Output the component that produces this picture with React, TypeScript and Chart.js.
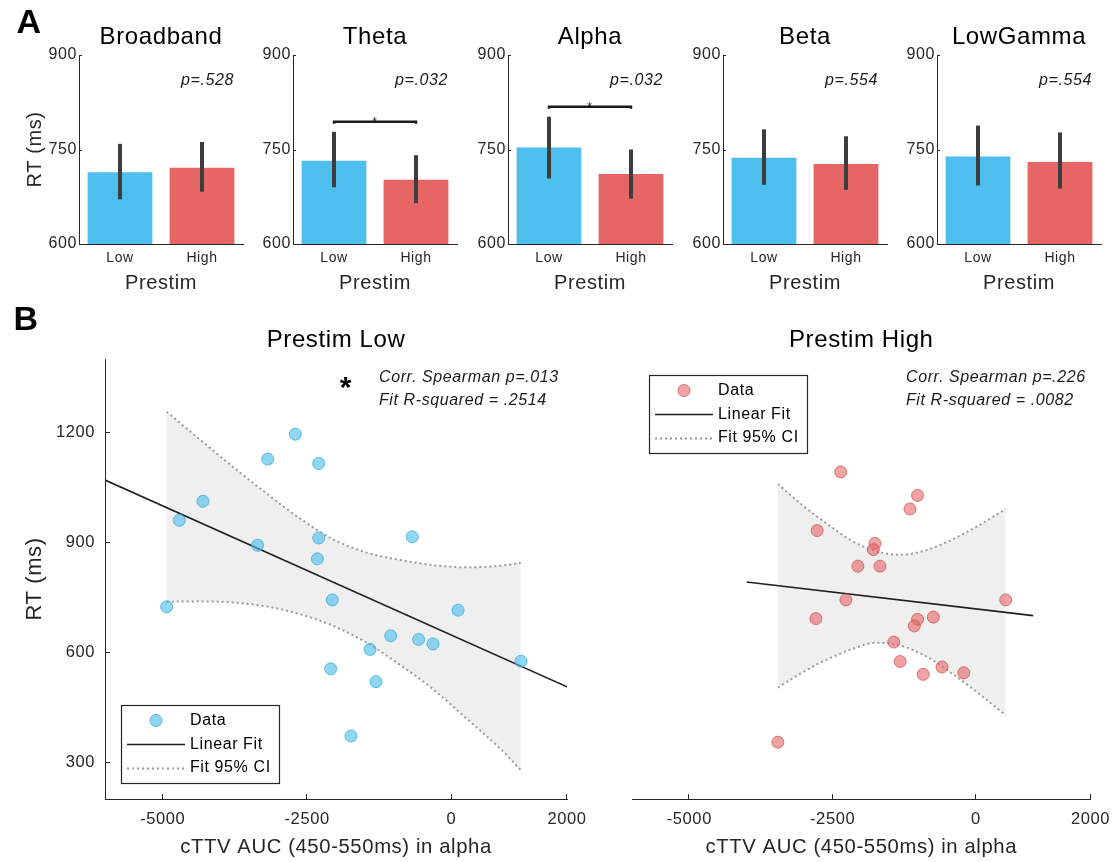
import React, { useEffect, useRef } from 'react';
import { Chart, registerables } from 'chart.js';

Chart.register(...registerables);

const FONT = '"Liberation Sans", Arial, Helvetica, sans-serif';
const AXIS = '#262626';
const TEXT = '#1a1a1a';
const BAR_BLUE = '#4DBEEE';
const BAR_RED = '#E66565';

// ---------- Panel A data ----------
const bandNames = ['Broadband', 'Theta', 'Alpha', 'Beta', 'LowGamma'];
const prestimLabels = ['Low', 'High'];
const rtLow = [714, 732, 753, 737, 739];
const rtHigh = [721, 702, 711, 727, 730];
const errLowMin = [671, 690, 704, 694, 693];
const errLowMax = [759, 778, 802, 782, 788];
const errHighMin = [683, 665, 672, 686, 688];
const errHighMax = [762, 741, 750, 771, 777];
const pLabels = ['p=.528', 'p=.032', 'p=.032', 'p=.554', 'p=.554'];
const sigBarLevel: (number | null)[] = [null, 794, 818, null, null];
const barYTicks = [600, 750, 900];

// ---------- Panel B data ----------
const scatterTitles = ['Prestim Low', 'Prestim High'];
const scatterXTicks = [-5000, -2500, 0, 2000];
const scatterYTicks = [300, 600, 900, 1200];
const legendLabels = ['Data', 'Linear Fit', 'Fit 95% CI'];

const lowX = [-4932, -4713, -4303, -3183, -2704, -2300, -3358, -2300, -2323, -679, -2064, 113, -1053, -570, -320, -1411, 1203, -2093, -1307, -1740];
const lowY = [724, 960, 1012, 1127, 1195, 1115, 892, 912, 855, 915, 743, 715, 645, 635, 623, 608, 576, 555, 520, 372];
const lowFitX = [-6000, 2000];
const lowFitY = [1070, 506];
const lowCiX = [-4932, -4355, -3778, -3201, -2624, -2046, -1469, -892, -315, 263, 840, 1200];
const lowCiUpper = [1256, 1180, 1105, 1033, 965, 908, 872, 852, 838, 832, 836, 844];
const lowCiLower = [738, 739, 736, 725, 704, 672, 626, 566, 499, 419, 338, 279];
const lowStats = ['Corr. Spearman p=.013', 'Fit R-squared = .2514'];

const highX = [-2359, -1018, -1150, -2769, -1761, -1789, -2060, -1674, -2268, 520, -2791, -1018, -1075, -742, -1433, -1322, -591, -920, -211, -3455];
const highY = [1092, 1028, 991, 932, 897, 880, 835, 835, 743, 743, 692, 690, 672, 696, 628, 575, 560, 540, 544, 355];
const highFitX = [-4000, 1000];
const highFitY = [792, 700];
const highCiX = [-3455, -3040, -2750, -2460, -2175, -1745, -1310, -880, -450, 15, 520];
const highCiUpper = [1059, 1003, 968, 935, 905, 876, 866, 878, 905, 943, 991];
const highCiLower = [504, 544, 569, 590, 608, 626, 618, 590, 546, 492, 428];
const highStats = ['Corr. Spearman p=.226', 'Fit R-squared = .0082'];

// ---------- layout (page pixels) ----------
const barAxisLeft = [79, 293, 508, 723, 937];
const BAR_PLOT_W = 164;
const BAR_YAXIS_W = 75;

const zip = (xs: number[], ys: number[]) => xs.map((x, k) => ({ x, y: ys[k] }));
const f = (size: number) => ({ family: FONT, size });

const spacing = {
  id: 'letterSpacing',
  beforeDraw(chart: any) {
    try { chart.ctx.letterSpacing = '0.6px'; } catch (e) { /* ignore */ }
  },
};

function barDecor(i: number) {
  return {
    id: 'barDecor',
    afterDatasetsDraw(chart: any) {
      const { ctx, chartArea: a } = chart;
      const x = chart.scales.x;
      const y = chart.scales.y;
      ctx.save();
      ctx.strokeStyle = AXIS;
      ctx.lineWidth = 1;
      barYTicks.forEach((v) => {
        const py = Math.round(y.getPixelForValue(v)) + 0.5;
        ctx.beginPath();
        ctx.moveTo(a.left, py);
        ctx.lineTo(a.left + 3, py);
        ctx.stroke();
      });
      ctx.strokeStyle = '#3d3d3d';
      ctx.lineWidth = 4;
      const errs = [[errLowMin[i], errLowMax[i]], [errHighMin[i], errHighMax[i]]];
      errs.forEach(([lo, hi], k) => {
        const px = x.getPixelForValue(k);
        ctx.beginPath();
        ctx.moveTo(px, y.getPixelForValue(lo));
        ctx.lineTo(px, y.getPixelForValue(hi));
        ctx.stroke();
      });
      const sig = sigBarLevel[i];
      if (sig !== null) {
        const py = y.getPixelForValue(sig);
        const x0 = x.getPixelForValue(0);
        const x1 = x.getPixelForValue(1);
        ctx.strokeStyle = '#1a1a1a';
        ctx.lineWidth = 2.5;
        ctx.beginPath();
        ctx.moveTo(x0, py + 2);
        ctx.lineTo(x0, py);
        ctx.lineTo(x1, py);
        ctx.lineTo(x1, py + 2);
        ctx.stroke();
        ctx.fillStyle = '#1a1a1a';
        ctx.font = `12px ${FONT}`;
        ctx.textAlign = 'center';
        ctx.textBaseline = 'alphabetic';
        ctx.fillText('*', (x0 + x1) / 2, py + 4);
      }
      ctx.fillStyle = TEXT;
      ctx.font = `italic 16px ${FONT}`;
      ctx.textAlign = 'right';
      ctx.textBaseline = 'middle';
      ctx.fillText(pLabels[i], a.right - 9, a.top + 26);
      if (i === 0) {
        ctx.fillStyle = '#000';
        ctx.font = `bold 34px ${FONT}`;
        ctx.textAlign = 'center';
        ctx.textBaseline = 'middle';
        ctx.fillText('A', 25, 24);
      }
      ctx.restore();
    },
  };
}

function barConfig(i: number): any {
  return {
    type: 'bar',
    data: {
      labels: prestimLabels,
      datasets: [
        {
          label: bandNames[i],
          data: [rtLow[i], rtHigh[i]],
          backgroundColor: [BAR_BLUE, BAR_RED],
          borderWidth: 0,
          barPercentage: 0.79,
          categoryPercentage: 1,
        },
      ],
    },
    options: {
      responsive: false,
      animation: false,
      events: [],
      layout: { padding: { left: 0, right: 8, top: 0, bottom: 0 } },
      plugins: {
        legend: { display: false },
        tooltip: { enabled: false },
        title: {
          display: true,
          text: bandNames[i],
          fullSize: false,
          color: '#000',
          font: { family: FONT, size: 24, weight: 'normal' },
          padding: { top: 22.6, bottom: 3.6 },
        },
      },
      scales: {
        x: {
          grid: { display: false, drawTicks: false },
          border: { display: true, color: AXIS, width: 1 },
          ticks: { color: AXIS, font: f(14), padding: 5.6 },
          title: { display: true, text: 'Prestim', color: AXIS, font: f(20), padding: { top: 0, bottom: 5 } },
          afterFit: (s: any) => { s.height = 56; },
        },
        y: {
          min: 600,
          max: 900,
          grid: { display: false, drawTicks: false },
          border: { display: true, color: AXIS, width: 1 },
          ticks: { color: AXIS, font: f(16), padding: 2, callback: (v: any) => String(v) },
          afterBuildTicks: (s: any) => { s.ticks = barYTicks.map((v) => ({ value: v })); },
          title: { display: i === 0, text: 'RT (ms)', color: AXIS, font: f(20), padding: { top: 19, bottom: 0 } },
          afterFit: (s: any) => { s.width = BAR_YAXIS_W; },
        },
      },
    },
    plugins: [spacing, barDecor(i)],
  };
}

function scatterDecor(isLow: boolean) {
  const stats = isLow ? lowStats : highStats;
  return {
    id: 'scatterDecor',
    afterDraw(chart: any) {
      const { ctx, chartArea: a } = chart;
      const x = chart.scales.x;
      const y = chart.scales.y;
      const ds = chart.data.datasets;
      ctx.save();
      ctx.strokeStyle = AXIS;
      ctx.lineWidth = 1;
      scatterXTicks.forEach((v) => {
        const px = Math.round(x.getPixelForValue(v)) - 0.5;
        ctx.beginPath();
        ctx.moveTo(px, a.bottom);
        ctx.lineTo(px, a.bottom - 5);
        ctx.stroke();
      });
      if (isLow) {
        scatterYTicks.forEach((v) => {
          const py = Math.round(y.getPixelForValue(v)) + 0.5;
          ctx.beginPath();
          ctx.moveTo(a.left, py);
          ctx.lineTo(a.left + 5, py);
          ctx.stroke();
        });
      }
      // statistics text
      ctx.fillStyle = TEXT;
      ctx.font = `italic 16px ${FONT}`;
      ctx.textAlign = 'left';
      ctx.textBaseline = 'middle';
      ctx.fillText(stats[0], a.left + 274, a.top + 19);
      ctx.fillText(stats[1], a.left + 274, a.top + 42);
      if (isLow) {
        ctx.fillStyle = '#000';
        ctx.font = `bold 30px ${FONT}`;
        ctx.textAlign = 'center';
        ctx.textBaseline = 'alphabetic';
        ctx.fillText('*', a.left + 241, a.top + 38);
      }
      // legend
      const bx = isLow ? a.left + 16 : a.left + 17;
      const by = isLow ? a.bottom - 94 : a.top + 16;
      const bw = 158;
      const bh = 78;
      ctx.fillStyle = '#fff';
      ctx.fillRect(bx, by, bw, bh);
      ctx.strokeStyle = '#262626';
      ctx.lineWidth = 1.2;
      ctx.strokeRect(bx + 0.5, by + 0.5, bw, bh);
      ctx.beginPath();
      ctx.arc(bx + 35, by + 15.5, 6, 0, Math.PI * 2);
      ctx.fillStyle = ds[0].pointBackgroundColor;
      ctx.fill();
      ctx.strokeStyle = ds[0].pointBorderColor;
      ctx.lineWidth = 1;
      ctx.stroke();
      ctx.strokeStyle = ds[1].borderColor;
      ctx.lineWidth = ds[1].borderWidth;
      ctx.beginPath();
      ctx.moveTo(bx + 6, by + 39.5);
      ctx.lineTo(bx + 64, by + 39.5);
      ctx.stroke();
      ctx.strokeStyle = ds[2].borderColor;
      ctx.lineWidth = ds[2].borderWidth;
      ctx.setLineDash(ds[2].borderDash);
      ctx.beginPath();
      ctx.moveTo(bx + 6, by + 63.5);
      ctx.lineTo(bx + 64, by + 63.5);
      ctx.stroke();
      ctx.setLineDash([]);
      ctx.fillStyle = '#000';
      ctx.font = `16px ${FONT}`;
      ctx.textAlign = 'left';
      ctx.textBaseline = 'middle';
      ctx.fillText(ds[0].label, bx + 69, by + 16);
      ctx.fillText(ds[1].label, bx + 69, by + 40);
      ctx.fillText(ds[2].label, bx + 69, by + 63);
      if (isLow) {
        ctx.fillStyle = '#000';
        ctx.font = `bold 34px ${FONT}`;
        ctx.textAlign = 'center';
        ctx.textBaseline = 'middle';
        ctx.fillText('B', 26, 21);
      }
      ctx.restore();
    },
  };
}

function scatterConfig(isLow: boolean): any {
  const xs = isLow ? lowX : highX;
  const ys = isLow ? lowY : highY;
  const fitX = isLow ? lowFitX : highFitX;
  const fitY = isLow ? lowFitY : highFitY;
  const ciX = isLow ? lowCiX : highCiX;
  const ciUp = isLow ? lowCiUpper : highCiUpper;
  const ciLo = isLow ? lowCiLower : highCiLower;
  const fill = isLow ? 'rgba(77,190,238,0.62)' : 'rgba(228,96,96,0.58)';
  const edge = isLow ? 'rgba(60,172,222,0.8)' : 'rgba(212,82,82,0.75)';
  const dotted = {
    type: 'line',
    borderColor: '#9a9a9a',
    borderWidth: 2,
    borderDash: [2, 3],
    pointRadius: 0,
    cubicInterpolationMode: 'monotone',
  };
  return {
    type: 'scatter',
    data: {
      datasets: [
        {
          type: 'scatter',
          label: legendLabels[0],
          data: zip(xs, ys),
          pointRadius: 6,
          pointBackgroundColor: fill,
          pointBorderColor: edge,
          pointBorderWidth: 1,
          backgroundColor: fill,
          borderColor: edge,
        },
        {
          type: 'line',
          label: legendLabels[1],
          data: zip(fitX, fitY),
          borderColor: '#1f1f1f',
          borderWidth: 1.6,
          pointRadius: 0,
          fill: false,
        },
        {
          ...dotted,
          label: legendLabels[2],
          data: zip(ciX, ciUp),
          fill: '+1',
          backgroundColor: '#EFEFEF',
        },
        {
          ...dotted,
          label: legendLabels[2],
          data: zip(ciX, ciLo),
          fill: false,
        },
      ],
    },
    options: {
      responsive: false,
      animation: false,
      events: [],
      layout: { padding: { left: isLow ? 0 : 72, right: isLow ? 33 : 24, top: 0, bottom: 0 } },
      plugins: {
        legend: { display: false },
        tooltip: { enabled: false },
        filler: { drawTime: 'beforeDatasetsDraw' },
        title: {
          display: true,
          text: scatterTitles[isLow ? 0 : 1],
          fullSize: false,
          color: '#000',
          font: { family: FONT, size: 24, weight: 'normal' },
          padding: { top: 25.6, bottom: 4.6 },
        },
      },
      scales: {
        x: {
          type: 'linear',
          min: -6000,
          max: 2000,
          grid: { display: false, drawTicks: false },
          border: { display: true, color: AXIS, width: 1 },
          ticks: { color: AXIS, font: f(16.5), padding: 10.1, callback: (v: any) => String(v) },
          afterBuildTicks: (s: any) => { s.ticks = scatterXTicks.map((v) => ({ value: v })); },
          title: { display: true, text: 'cTTV AUC (450-550ms) in alpha', color: AXIS, font: f(20.3), padding: { top: 0, bottom: 2.8 } },
          afterFit: (s: any) => { s.height = 63; },
        },
        y: {
          type: 'linear',
          display: isLow,
          min: 200,
          max: 1400,
          grid: { display: false, drawTicks: false },
          border: { display: true, color: AXIS, width: 1 },
          ticks: { color: AXIS, font: f(16.5), padding: 10, callback: (v: any) => String(v) },
          afterBuildTicks: (s: any) => { s.ticks = scatterYTicks.map((v) => ({ value: v })); },
          title: { display: true, text: 'RT (ms)', color: AXIS, font: f(22), padding: { top: 21.8, bottom: 0 } },
          afterFit: (s: any) => { s.width = isLow ? 105 : 0; },
        },
      },
    },
    plugins: [spacing, scatterDecor(isLow)],
  };
}

type Box = { left: number; top: number; width: number; height: number };

function ChartCanvas({ box, make }: { box: Box; make: () => any }) {
  const ref = useRef<HTMLCanvasElement>(null);
  useEffect(() => {
    if (!ref.current) return;
    const chart = new Chart(ref.current, make());
    return () => chart.destroy();
  }, []);
  return (
    <canvas
      ref={ref}
      width={box.width}
      height={box.height}
      style={{ position: 'absolute', left: box.left, top: box.top, width: box.width, height: box.height }}
    />
  );
}

export default function App() {
  return (
    <div
      style={{
        position: 'absolute',
        left: 0,
        top: 0,
        width: 1119,
        height: 862,
        background: '#fff',
        overflow: 'hidden',
      }}
    >
      {bandNames.map((_, i) => (
        <ChartCanvas
          key={i}
          box={{ left: barAxisLeft[i] - BAR_YAXIS_W, top: 0, width: BAR_YAXIS_W + BAR_PLOT_W + 8, height: 300 }}
          make={() => barConfig(i)}
        />
      ))}
      <ChartCanvas box={{ left: 0, top: 300, width: 600, height: 562 }} make={() => scatterConfig(true)} />
      <ChartCanvas box={{ left: 560, top: 300, width: 559, height: 562 }} make={() => scatterConfig(false)} />
    </div>
  );
}
